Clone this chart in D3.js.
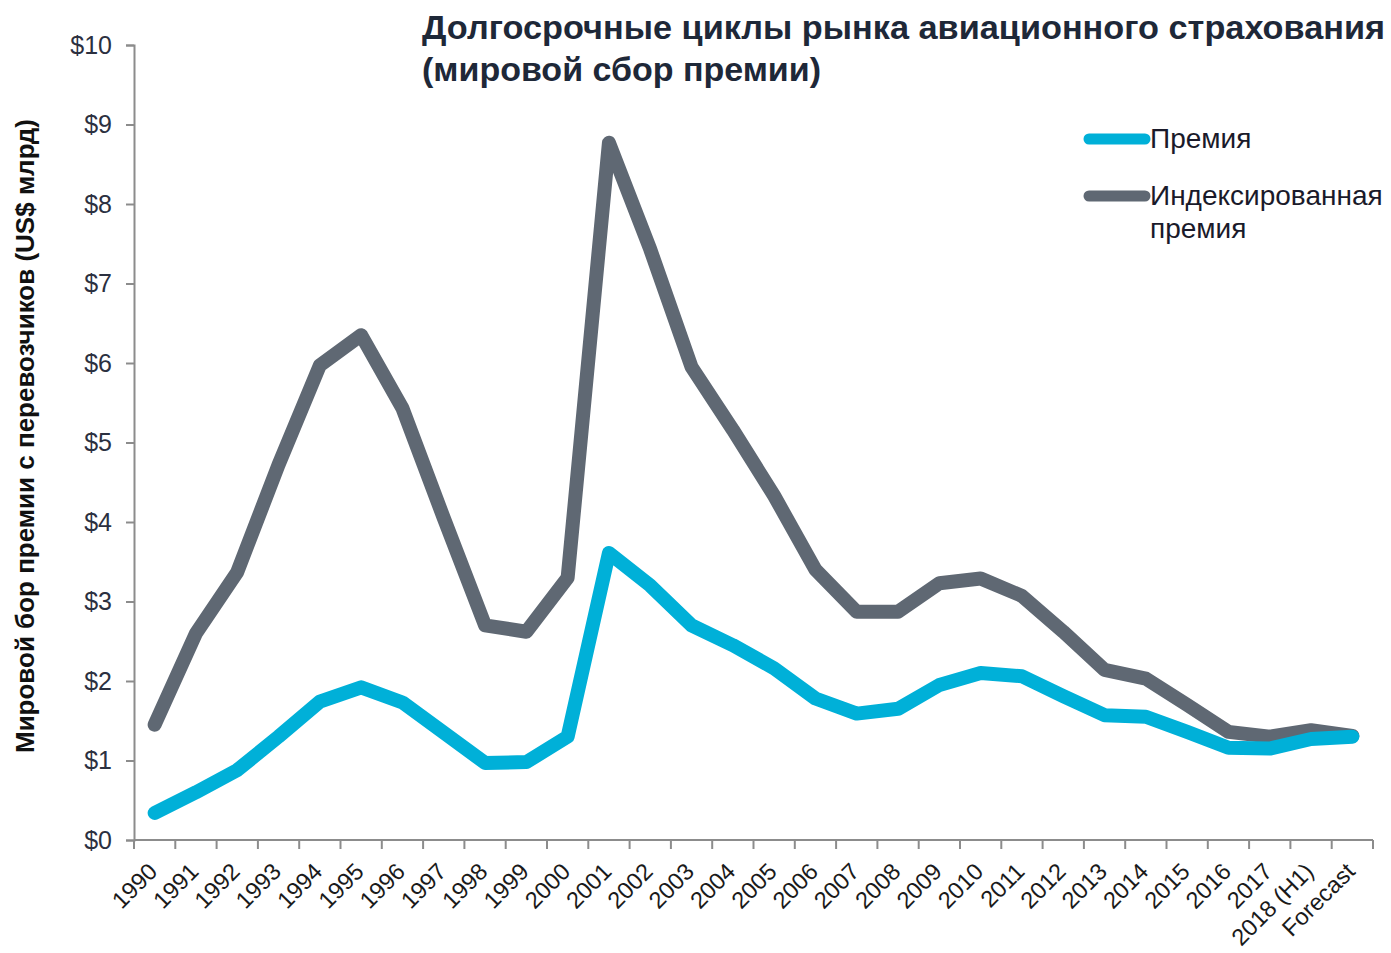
<!DOCTYPE html>
<html><head><meta charset="utf-8">
<script src="https://cdn.jsdelivr.net/npm/d3@7"></script>
<style>body{margin:0;background:#fff}svg{display:block}text{font-family:"Liberation Sans",Arial,sans-serif}</style>
</head><body><svg id="c" width="1391" height="953"></svg>
<script>
const categories=["1990","1991","1992","1993","1994","1995","1996","1997","1998","1999","2000","2001","2002","2003","2004","2005","2006","2007","2008","2009","2010","2011","2012","2013","2014","2015","2016","2017","2018 (H1)","Forecast"];
const premium=[0.34,0.60,0.88,1.30,1.74,1.92,1.73,1.35,0.97,0.98,1.30,3.61,3.20,2.70,2.45,2.16,1.78,1.59,1.65,1.95,2.10,2.06,1.81,1.57,1.55,1.36,1.16,1.15,1.27,1.30];
const indexed=[1.45,2.60,3.37,4.72,5.97,6.35,5.43,4.05,2.70,2.62,3.30,8.77,7.43,5.95,5.16,4.33,3.40,2.87,2.87,3.23,3.29,3.07,2.62,2.14,2.03,1.70,1.36,1.30,1.38,1.31];
const yTicks=[0,1,2,3,4,5,6,7,8,9,10];
const seriesNames=["Премия","Индексированная премия"];
const colors=["#00b0d8","#5f6873"];
const titleLines=["Долгосрочные циклы рынка авиационного страхования","(мировой сбор премии)"];
const yTitle="Мировой бор премии с перевозчиков (US$ млрд)";

const svg=d3.select("#c");
const L=134,R=1373,T=45,B=840;
const x=d3.scaleBand().domain(categories).range([L,R]).padding(0);
const y=d3.scaleLinear().domain([0,10]).range([B,T]);
const axisCol="#8c8c8c";

// y axis
const ya=svg.append("g").attr("transform",`translate(${L},0)`).call(d3.axisLeft(y).tickValues(yTicks).tickSize(8).tickPadding(14).tickFormat(d=>"$"+d));
ya.select(".domain").attr("stroke",axisCol).attr("stroke-width",2);
ya.selectAll(".tick line").attr("stroke",axisCol).attr("stroke-width",2);
ya.selectAll(".tick text").attr("font-size",25).attr("fill","#2b3040").attr("font-family","Liberation Sans, Arial, sans-serif");

// x axis
const xa=svg.append("g").attr("transform",`translate(0,${B})`);
xa.append("line").attr("x1",L).attr("x2",R).attr("stroke",axisCol).attr("stroke-width",2);
const bounds=categories.map(c=>x(c)).concat([x(categories[categories.length-1])+x.bandwidth()]);
xa.selectAll("line.tk").data(bounds).join("line").attr("class","tk").attr("x1",d=>d).attr("x2",d=>d).attr("y1",0).attr("y2",9).attr("stroke",axisCol).attr("stroke-width",2);
xa.selectAll("text").data(categories).join("text")
  .attr("transform",d=>`translate(${x(d)+x.bandwidth()/2+4},${33}) rotate(-45)`)
  .attr("text-anchor","end").attr("font-size",23.5).attr("fill","#1a1a1a").text(d=>d);

// lines
const line=d3.line().x((d,i)=>x(categories[i])+x.bandwidth()/2).y(d=>y(d));
[indexed,premium].forEach((s,k)=>{
  svg.append("path").datum(s).attr("d",line).attr("fill","none")
   .attr("stroke",k===0?colors[1]:colors[0]).attr("stroke-width",14).attr("stroke-linejoin","round").attr("stroke-linecap","round");
});

// title
svg.append("text").attr("x",422).attr("y",39).attr("font-size",34).attr("font-weight","bold").attr("fill","#1e2838").attr("textLength",963).attr("lengthAdjust","spacingAndGlyphs").text(titleLines[0]);
svg.append("text").attr("x",422).attr("y",81).attr("font-size",34).attr("font-weight","bold").attr("fill","#1e2838").text(titleLines[1]);

// y title
svg.append("text").attr("transform","translate(34,436) rotate(-90)").attr("text-anchor","middle")
  .attr("font-size",26).attr("font-weight","bold").attr("fill","#111").text(yTitle);

// legend
const lg=svg.append("g");
lg.append("line").attr("x1",1089).attr("x2",1145).attr("y1",139).attr("y2",139).attr("stroke",colors[0]).attr("stroke-width",11).attr("stroke-linecap","round");
lg.append("text").attr("x",1150).attr("y",148).attr("font-size",28).attr("fill","#1a1a2a").text(seriesNames[0]);
lg.append("line").attr("x1",1089).attr("x2",1145).attr("y1",196).attr("y2",196).attr("stroke",colors[1]).attr("stroke-width",11).attr("stroke-linecap","round");
const parts=seriesNames[1].split(" ");
lg.append("text").attr("x",1150).attr("y",205).attr("font-size",28).attr("fill","#1a1a2a").text(parts[0]);
lg.append("text").attr("x",1150).attr("y",238).attr("font-size",28).attr("fill","#1a1a2a").text(parts[1]);
</script></body></html>
